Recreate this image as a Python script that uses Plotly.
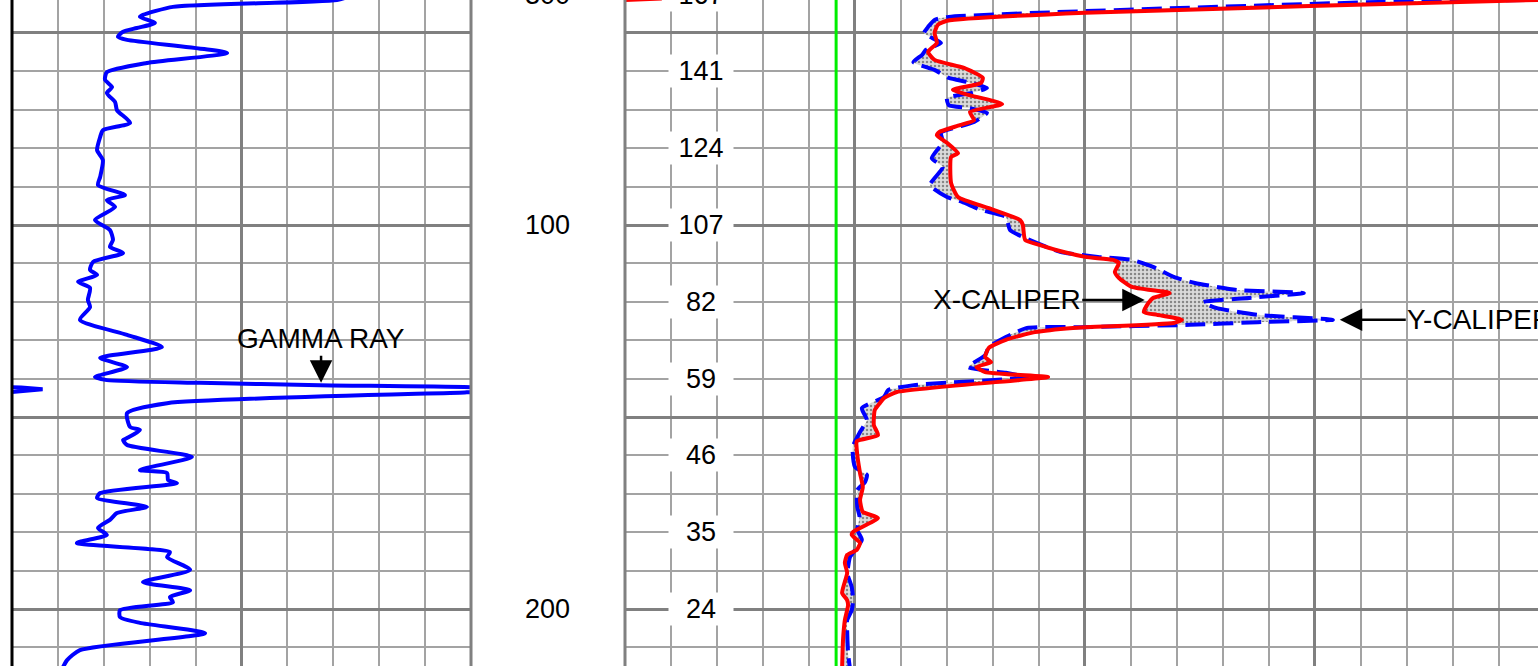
import numpy as np
import plotly.graph_objects as go

# ---------------- data ----------------
# Gamma ray track: depth (ft) and gamma ray (API, 0-150 scale)
gr_depth = [40.0, 41.4, 43.2, 45.3, 45.8, 47.4, 48.7, 49.7, 51.0, 51.8, 55.2, 57.8, 60.2, 62.2, 64.1,
            65.6, 68.0, 70.1, 73.4, 75.3, 77.1, 80.5, 83.1, 87.5, 89.6, 92.2, 93.5, 95.3, 98.7,
            101.3, 103.9, 105.7, 107.3, 109.6, 111.7, 113.0, 114.8, 116.4, 119.5, 121.4, 124.7,
            128.6, 131.8, 134.6, 137.0, 139.6, 140.4, 141.1, 141.7, 142.3, 142.8, 143.4, 143.6,
            146.4, 149.0, 152.6, 153.4, 155.5, 156.0, 157.3, 160.4, 163.8, 164.6, 166.4, 167.2,
            169.8, 171.1, 173.4, 175.0, 176.8, 178.9, 180.7, 182.8, 185.2, 186.5, 189.8, 193.0,
            195.1, 196.9, 198.2, 200.3, 202.1, 203.6, 206.3, 210.7, 213.3, 215.1]
gr_api = [112.0, 106.2, 52.6, 42.8, 41.8, 46.7, 40.8, 36.3, 34.6, 37.6, 70.3, 44.1, 31.0, 30.4, 32.7,
          31.0, 33.7, 34.3, 38.6, 29.7, 28.8, 27.8, 29.7, 28.8, 28.1, 36.9, 31.0, 33.7, 27.1,
          32.0, 33.0, 32.0, 36.3, 26.5, 25.5, 27.8, 21.6, 25.5, 24.8, 25.5, 22.2,
          37.6, 49.0, 28.8, 37.6, 27.1, 31.0, 61.4, 100.7, 153.0, 160.0, 153.0, 148.0,
          50.7, 37.6, 38.6, 41.8, 37.6, 36.3, 37.6, 58.8, 41.8, 50.7, 51.0, 53.9,
          28.8, 27.8, 44.1, 34.3, 32.0, 28.1, 31.0, 21.2, 51.6, 50.7, 58.2, 42.8,
          58.2, 51.6, 52.6, 35.3, 35.3, 41.8, 63.1, 22.2, 18.0, 16.7]

# Caliper track: X-caliper (solid red) and Y-caliper (dashed blue), inches
xcal_depth = [41.0, 41.4, 44.7, 46.8, 47.9, 50.0, 52.6, 54.9, 57.0, 59.1, 61.7, 63.0, 64.8, 66.1,
              68.5, 70.6, 72.7, 74.0, 75.8, 76.6, 78.6, 81.3, 82.3, 89.1, 92.7, 95.6, 98.7, 100.0,
              103.9, 105.2, 106.5, 108.3, 109.1, 109.9, 112.2, 113.8, 116.1, 117.7, 119.0, 120.3,
              122.7, 123.4, 124.7, 125.5, 126.8, 127.9, 129.9, 132.0, 134.4, 135.7, 137.0, 138.3,
              139.6, 140.4, 143.5, 145.1, 146.4, 148.2, 152.1, 154.7, 156.3, 158.6, 164.6, 168.2,
              171.6, 174.7, 176.3, 179.9, 180.7, 182.8, 184.6, 185.9, 188.0, 190.6, 195.8, 197.7,
              199.0, 202.9, 208.1, 215.4]
xcal_in = [24.8, 23.85, 14.0, 11.0, 10.8, 10.73, 10.78, 10.59, 10.73, 11.37, 11.78, 11.74, 11.13, 11.46,
           12.2, 11.5, 11.59, 11.28, 10.83, 10.78, 11.0, 11.24, 11.09, 11.09, 11.24, 11.91, 12.59, 12.65,
           12.7, 13.01, 13.37, 14.01, 14.61, 14.74, 14.65, 14.74, 15.02, 15.84, 15.48, 15.38,
           15.28, 15.57, 16.11, 15.93, 13.74, 12.91, 12.28, 11.91, 11.83, 11.96, 11.64, 11.83,
           13.2, 12.55, 9.91, 9.63, 9.54, 9.43, 9.41, 9.5, 9.04, 9.04, 9.11, 9.17,
           9.11, 9.17, 9.5, 8.96, 8.93, 9.11, 9.04, 8.83, 8.78, 8.83, 8.72, 8.83,
           8.85, 8.78, 8.74, 8.72]

ycal_depth = [41.0, 41.4, 41.9, 45.8, 46.6, 48.4, 50.0, 51.0, 52.6, 54.4, 55.7, 57.6, 59.6, 61.7,
              62.8, 64.3, 65.6, 66.9, 68.8, 69.5, 70.8, 73.2, 76.0, 78.4, 82.6, 84.9, 89.6, 92.7,
              94.0, 96.1, 97.9, 101.3, 103.4, 107.0, 108.3, 109.1, 110.9, 113.5, 115.1, 116.9,
              117.7, 119.0, 120.1, 121.6, 123.4, 124.7, 125.3, 126.0, 126.6, 126.8, 129.2, 131.8,
              133.9, 137.0, 138.5, 139.6, 141.7, 143.0, 144.8, 147.7, 150.8, 153.9, 157.8, 163.0,
              165.1, 166.9, 169.0, 173.4, 176.0, 179.4, 182.0, 186.5, 189.1, 190.6, 194.3, 197.7,
              200.3, 202.9, 205.5, 211.5, 215.4]
ycal_in = [24.8, 23.67, 20.48, 11.04, 10.73, 10.59, 10.5, 10.63, 10.87, 10.54, 10.46, 10.27, 10.73, 11.04,
           11.46, 11.87, 11.54, 11.0, 11.04, 11.46, 11.87, 11.59, 10.87, 10.91, 10.67, 10.91, 10.63, 11.0,
           11.33, 11.74, 12.28, 12.37, 12.7, 13.46, 14.28, 15.02, 15.48, 15.93, 16.39, 17.3,
           18.76, 17.57, 16.57, 16.85, 17.76, 19.39, 17.76, 16.28, 13.91, 12.74, 12.28, 11.91,
           11.83, 11.46, 12.28, 12.74, 10.28, 9.72, 9.63, 9.15, 9.26, 9.11, 8.95, 9.0,
           9.26, 9.22, 9.05, 9.05, 9.1, 9.05, 9.15, 8.89, 8.85, 8.83, 8.93, 8.96,
           8.93, 8.83, 8.83, 8.85, 8.89]

bit_size_in = 8.59

depth_labels = ["300", "100", "200"]
depth_label_depths = [40, 100, 200]
track_labels = ["167", "141", "124", "107", "82", "59", "46", "35", "24"]
track_label_depths = [40, 60, 80, 100, 120, 140, 160, 180, 200]

# scales
GR_MIN, GR_MAX = 0, 150
CAL_MIN, CAL_MAX = 4, 23.85
DEPTH_TOP, DEPTH_BOT = 41.41, 214.84

W, H = 1538, 666
FONT = "Liberation Sans, Arial, sans-serif"

gr = np.array(gr_api)
xc = np.array(xcal_in)
yc = np.array(ycal_in)


def depth_to_paper(d):
    # paper y for a depth (used for labels, some of which sit just above the top of the log)
    return 1 - (d - DEPTH_TOP) / (DEPTH_BOT - DEPTH_TOP)


fig = go.Figure()

# gamma ray and its wrap-around backup
fig.add_trace(go.Scatter(x=gr, y=gr_depth, mode="lines", xaxis="x", yaxis="y",
                         line=dict(color="#0000ff", width=4, shape="spline", smoothing=0.6),
                         hoverinfo="skip", showlegend=False))
fig.add_trace(go.Scatter(x=gr - (GR_MAX - GR_MIN), y=gr_depth, mode="lines", xaxis="x", yaxis="y",
                         line=dict(color="#0000ff", width=4),
                         hoverinfo="skip", showlegend=False))

# bit size line
fig.add_trace(go.Scatter(x=[bit_size_in, bit_size_in], y=[DEPTH_TOP - 5, DEPTH_BOT + 5], mode="lines",
                         xaxis="x2", yaxis="y2", line=dict(color="#00ee00", width=3),
                         hoverinfo="skip", showlegend=False))

# shaded area between calipers
fig.add_trace(go.Scatter(x=xc, y=xcal_depth, mode="lines", xaxis="x2", yaxis="y2",
                         line=dict(width=0, color="rgba(0,0,0,0)", shape="spline", smoothing=0.5),
                         hoverinfo="skip", showlegend=False))
fig.add_trace(go.Scatter(x=yc, y=ycal_depth, mode="lines", xaxis="x2", yaxis="y2",
                         line=dict(width=0, color="rgba(0,0,0,0)", shape="spline", smoothing=0.5),
                         fill="tonextx", fillcolor="#dadada",
                         fillpattern=dict(shape=".", bgcolor="#dadada", fgcolor="#333333",
                                          size=4, solidity=0.3),
                         hoverinfo="skip", showlegend=False))

# Y caliper (dashed blue)
fig.add_trace(go.Scatter(x=yc, y=ycal_depth, mode="lines", xaxis="x2", yaxis="y2",
                         line=dict(color="#0000ff", width=4, dash="20px,8px", shape="spline", smoothing=0.5),
                         hoverinfo="skip", showlegend=False))
# X caliper (solid red) and backup wrap
fig.add_trace(go.Scatter(x=xc, y=xcal_depth, mode="lines", xaxis="x2", yaxis="y2",
                         line=dict(color="#ff0000", width=4, shape="spline", smoothing=0.5),
                         hoverinfo="skip", showlegend=False))
fig.add_trace(go.Scatter(x=xc - 20, y=xcal_depth, mode="lines", xaxis="x2", yaxis="y2",
                         line=dict(color="#ff0000", width=4),
                         hoverinfo="skip", showlegend=False))

grid_major = dict(showgrid=True, gridcolor="#808080", gridwidth=2.5,
                  showticklabels=False, ticks="", zeroline=False, showline=False)
minor = dict(showgrid=True, gridcolor="#a3a3a3", gridwidth=1.6)

fig.update_layout(
    width=W, height=H, margin=dict(l=0, r=0, t=0, b=0),
    paper_bgcolor="white", plot_bgcolor="white", showlegend=False,
    xaxis=dict(domain=[12 / W, 471 / W], range=[GR_MIN, GR_MAX], tick0=0, dtick=75,
               minor=dict(dtick=15, **minor), anchor="y", **grid_major),
    yaxis=dict(range=[DEPTH_BOT, DEPTH_TOP], tick0=0, dtick=50,
               minor=dict(dtick=10, **minor), anchor="x", **grid_major),
    xaxis2=dict(domain=[625 / W, 1.0], range=[CAL_MIN, CAL_MAX], tick0=4, dtick=5,
                minor=dict(dtick=1, **minor), anchor="y2", **grid_major),
    yaxis2=dict(range=[DEPTH_BOT, DEPTH_TOP], tick0=0, dtick=50,
                minor=dict(dtick=10, **minor), anchor="x2", **grid_major),
)

# track borders
fig.add_shape(type="line", xref="paper", yref="paper", x0=12 / W, x1=12 / W, y0=0, y1=1,
              line=dict(color="black", width=3))
fig.add_shape(type="line", xref="paper", yref="paper", x0=471 / W, x1=471 / W, y0=0, y1=1,
              line=dict(color="#808080", width=3))
fig.add_shape(type="line", xref="paper", yref="paper", x0=625 / W, x1=625 / W, y0=0, y1=1,
              line=dict(color="#808080", width=3))

# depth labels
for t, d in zip(depth_labels, depth_label_depths):
    fig.add_annotation(text=t, xref="paper", x=547 / W, yref="paper", y=depth_to_paper(d),
                       xanchor="center", yanchor="middle", showarrow=False,
                       font=dict(family=FONT, size=27, color="black"))
# caliper-track labels with white boxes
for t, d in zip(track_labels, track_label_depths):
    fig.add_annotation(text=t, xref="x2", x=5.65, yref="paper", y=depth_to_paper(d),
                       xanchor="center", yanchor="middle", showarrow=False,
                       bgcolor="white", width=62, height=30,
                       font=dict(family=FONT, size=27, color="black"))

arrow = dict(showarrow=True, arrowhead=2, arrowsize=1.8, arrowwidth=2.5, arrowcolor="black",
             font=dict(family=FONT, size=28, color="black"))
fig.add_annotation(text="GAMMA RAY", xref="x", yref="y", x=101.0, y=141.1, ax=0, ay=-44, **arrow)
fig.add_annotation(text="X-CALIPER", xref="x2", yref="y2", x=15.3, y=119.5, ax=-138, ay=0, **arrow)
fig.add_annotation(text="Y-CALIPER", xref="x2", yref="y2", x=19.54, y=124.7, ax=140, ay=0, **arrow)

fig.write_html("out.html", config={"displayModeBar": False},
               post_script="document.body.style.margin='0px';")
